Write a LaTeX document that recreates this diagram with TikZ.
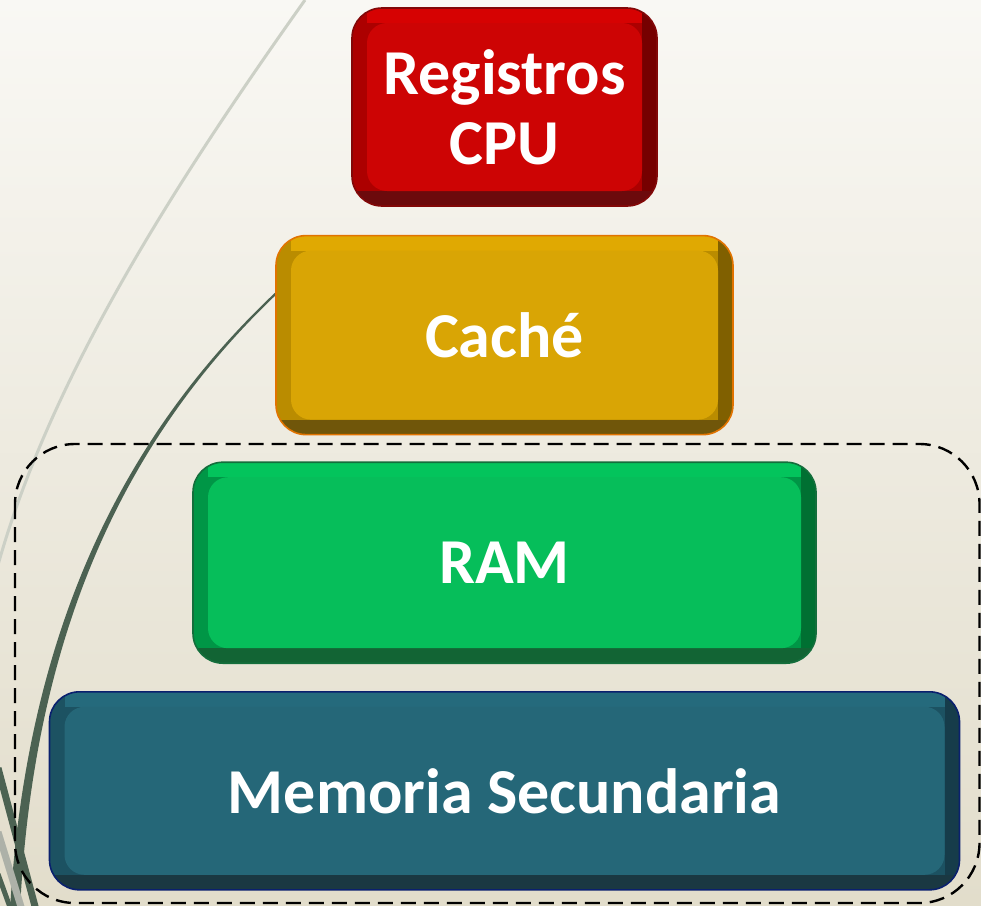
\documentclass[tikz,border=0pt]{standalone}
\usepackage{fontspec}
\setmainfont{Carlito}
\usetikzlibrary{positioning}
\def\capasep{27pt}
\def\bisel{15pt}
% colours of the layers
\definecolor{fondoarriba}{RGB}{249,248,244}
\definecolor{fondoabajo}{RGB}{226,221,203}
\definecolor{curvaclara}{RGB}{204,208,198}
\definecolor{curvaosc}{RGB}{76,98,82}
\definecolor{rojo}{RGB}{205,4,4}
\definecolor{rojo-sup}{RGB}{214,2,2}
\definecolor{rojo-izq}{RGB}{172,0,0}
\definecolor{rojo-der}{RGB}{118,0,0}
\definecolor{rojo-inf}{RGB}{108,10,12}
\definecolor{rojo-borde}{RGB}{130,8,8}
\definecolor{oro}{RGB}{217,165,5}
\definecolor{oro-sup}{RGB}{224,169,2}
\definecolor{oro-izq}{RGB}{186,140,0}
\definecolor{oro-der}{RGB}{128,96,0}
\definecolor{oro-inf}{RGB}{112,86,10}
\definecolor{oro-borde}{RGB}{225,115,0}
\definecolor{verde}{RGB}{6,190,90}
\definecolor{verde-sup}{RGB}{3,196,92}
\definecolor{verde-izq}{RGB}{0,150,70}
\definecolor{verde-der}{RGB}{0,112,50}
\definecolor{verde-inf}{RGB}{18,100,52}
\definecolor{verde-borde}{RGB}{20,110,60}
\definecolor{azul}{RGB}{37,103,120}
\definecolor{azul-sup}{RGB}{37,106,124}
\definecolor{azul-izq}{RGB}{28,82,98}
\definecolor{azul-der}{RGB}{22,60,74}
\definecolor{azul-inf}{RGB}{26,56,66}
\definecolor{azul-borde}{RGB}{10,32,110}
\tikzstyle{capa base}=[rectangle, rounded corners=30pt, text=white, align=center, inner sep=0pt, line width=1.6pt, font=\bfseries\fontsize{64}{70}\selectfont]
\tikzset{
  capa/.style={capa base, draw=#1-borde, fill=#1-izq,
    path picture={
      \fill[sharp corners,#1-der] ([xshift=-\bisel]path picture bounding box.south east) rectangle (path picture bounding box.north east);
      \fill[sharp corners,#1-sup] ([xshift=\bisel]path picture bounding box.north west) rectangle ([shift={(-\bisel,-\bisel)}]path picture bounding box.north east);
      \fill[sharp corners,#1-inf] (path picture bounding box.south west) rectangle ([yshift=\bisel]path picture bounding box.south east);
      \fill[rounded corners=20pt,#1] ([shift={(\bisel,\bisel)}]path picture bounding box.south west) rectangle ([shift={(-\bisel,-\bisel)}]path picture bounding box.north east);
    }},
  marco/.style={draw=black, line width=2.4pt, dash pattern=on 15pt off 8pt, rounded corners=60pt}
}

\begin{document}
\begin{tikzpicture}[x=1pt, y=-1pt]
  \useasboundingbox (0,0) rectangle (981,905);

  % Background and the curves behind the layers
  \shade[top color=fondoarriba, bottom color=fondoabajo] (0,0) rectangle (981,905);
  \draw[curvaclara, line width=3pt] (305,0) .. controls (170,190) and (50,380) .. (-2,565);
  \fill[curvaosc] (279,289) .. controls (130,428) and (27,620) .. (10,910) -- (20,910) .. controls (34,622) and (132,431) .. (279,292) -- cycle;
  \draw[curvaosc, line width=7pt] (-2,768) -- (36,910);
  \draw[curvaclara!85!black, line width=7pt] (-2,832) -- (22,910);
  \draw[curvaosc, line width=5pt] (-2,874) -- (11,910);

  % The memory levels, top to bottom
  \node[capa=rojo, minimum width=305pt, minimum height=198pt] (reg) at (504.5,107) {Registros\\CPU};
  \node[capa=oro, minimum width=457pt, minimum height=199pt, below=28pt of reg] (cache) {Caché};
  \node[capa=verde, minimum width=623pt, minimum height=201pt, below=26pt of cache] (ram) {RAM};
  \node[capa=azul, minimum width=910pt, minimum height=198pt, below=\capasep of ram] (sec) {Memoria Secundaria};

  % Dashed frame round RAM and secondary memory
  \draw[marco] (15,444) rectangle (979.5,903);
\end{tikzpicture}
\end{document}
